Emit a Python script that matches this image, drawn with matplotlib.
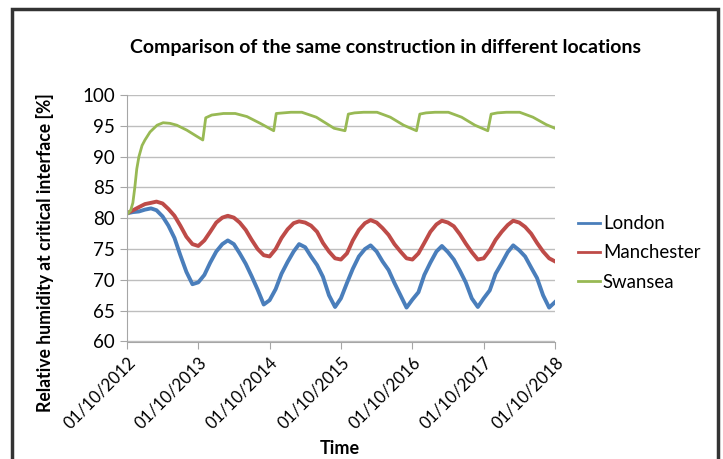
import matplotlib
matplotlib.use("Agg")
import matplotlib.pyplot as plt
import matplotlib.dates as mdates
from matplotlib.patches import Rectangle
import pandas as pd

plt.rcParams['font.family'] = ['Lato', 'DejaVu Sans']

# monthly readings (1st of each month, Oct 2012 .. Oct 2018)
months = pd.date_range('2012-10-01', '2018-10-01', freq='MS')

london = [80.8, 81.0, 81.1, 81.4, 81.6, 81.3, 80.3, 78.8, 76.8, 74.0, 71.3, 69.3, 69.6,
          70.8, 72.8, 74.6, 75.8, 76.4, 75.8, 74.3, 72.6, 70.6, 68.4, 66.0, 66.7,
          68.5, 71.0, 72.9, 74.6, 75.8, 75.3, 73.8, 72.4, 70.5, 67.5, 65.6, 67.0,
          69.5, 71.8, 73.8, 75.0, 75.6, 74.6, 73.0, 71.6, 69.5, 67.5, 65.5, 66.8,
          68.0, 70.8, 72.8, 74.6, 75.5, 74.5, 73.3, 71.5, 69.6, 67.0, 65.6, 67.0,
          68.3, 71.0, 72.7, 74.5, 75.6, 74.8, 73.8, 72.0, 70.3, 67.5, 65.5, 66.4]

manchester = [80.8, 81.3, 81.8, 82.3, 82.5, 82.7, 82.4, 81.5, 80.4, 78.8, 77.0, 75.8, 75.5,
              76.4, 77.8, 79.3, 80.1, 80.4, 80.1, 79.3, 78.1, 76.5, 75.0, 74.0, 73.8,
              75.0, 76.8, 78.2, 79.2, 79.5, 79.3, 78.8, 77.8, 76.0, 74.6, 73.5, 73.3,
              74.3, 76.4, 78.1, 79.2, 79.7, 79.3, 78.4, 77.3, 75.8, 74.6, 73.5, 73.3,
              74.3, 76.0, 77.8, 79.0, 79.6, 79.3, 78.7, 77.4, 75.9, 74.5, 73.3, 73.5,
              74.8, 76.5, 77.8, 78.9, 79.6, 79.3, 78.6, 77.5, 76.0, 74.6, 73.5, 73.0]

# swansea has sharp jumps every autumn, so it gets its own dates
swansea_dates = ['2012-10-01', '2012-10-20', '2012-10-31', '2012-11-10', '2012-11-20',
                 '2012-12-01', '2012-12-17', '2013-01-01', '2013-01-27', '2013-03-04',
                 '2013-04-04', '2013-05-09', '2013-06-13', '2013-08-03', '2013-09-23',
                 '2013-10-24', '2013-11-08', '2013-12-09', '2014-02-07', '2014-04-08',
                 '2014-06-07', '2014-08-14', '2014-10-22',
                 '2014-11-04', '2015-01-18', '2015-03-15', '2015-05-28', '2015-08-27',
                 '2015-10-22',
                 '2015-11-08', '2015-12-10', '2016-01-25', '2016-04-03', '2016-06-10',
                 '2016-08-17', '2016-10-22',
                 '2016-11-08', '2016-12-10', '2017-01-25', '2017-04-03', '2017-06-10',
                 '2017-08-17', '2017-10-22',
                 '2017-11-08', '2017-12-10', '2018-01-25', '2018-04-03', '2018-06-10',
                 '2018-08-17', '2018-10-01']
swansea = [80.6, 81.3, 82.5, 85.0, 88.0,
           90.0, 91.8, 92.7, 94.0, 95.1,
           95.5, 95.4, 95.1, 94.3, 93.3,
           92.7, 96.3, 96.75, 97.0, 97.0,
           96.5, 95.4, 94.2,
           97.0, 97.2, 97.2, 96.4, 94.6,
           94.2,
           96.9, 97.1, 97.2, 97.2, 96.4,
           95.1, 94.2,
           96.9, 97.1, 97.2, 97.2, 96.4,
           95.1, 94.2,
           96.9, 97.1, 97.2, 97.2, 96.4,
           95.2, 94.6]

year_ticks = pd.to_datetime(['2012-10-01', '2013-10-01', '2014-10-01', '2015-10-01',
                             '2016-10-01', '2017-10-01', '2018-10-01'])

fig = plt.figure(figsize=(7.23, 4.59), dpi=100)
ax = fig.add_axes([127/723, 1-341.5/459, (555-127)/723, (341.5-95)/459])

ax.plot(months, london, color='#4A7EBB', lw=2.8, label='London', solid_joinstyle='round')
ax.plot(months, manchester, color='#BE4B48', lw=2.8, label='Manchester', solid_joinstyle='round')
ax.plot(pd.to_datetime(swansea_dates), swansea, color='#98B954', lw=2.0, label='Swansea')

ax.set_ylim(60, 100)
ax.set_yticks(range(60, 101, 5))
ax.set_xlim(year_ticks[0], year_ticks[-1])
ax.set_xticks(year_ticks)
ax.xaxis.set_major_formatter(mdates.DateFormatter('%d/%m/%Y'))
ax.grid(axis='y', color='#BEBEBE', lw=1)
ax.set_axisbelow(True)
for s in ['top', 'right']:
    ax.spines[s].set_visible(False)
for s in ['left', 'bottom']:
    ax.spines[s].set_color('#A6A6A6')
ax.tick_params(axis='both', colors='#A6A6A6', length=5, labelcolor='black')
ax.tick_params(axis='y', labelsize=13.5)
ax.tick_params(axis='x', labelsize=12.2, pad=4)
plt.setp(ax.get_xticklabels(), rotation=45, ha='right', rotation_mode='anchor')

fig.text(385/723, 1-48/459, 'Comparison of the same construction in different locations',
         ha='center', va='center', fontsize=14, fontweight='bold')
fig.text(45/723, 1-253/459, 'Relative humidity at critical interface [%]', rotation=90,
         ha='center', va='center', fontsize=12.7, fontweight='bold')
fig.text(340/723, 1-448/459, 'Time', ha='center', va='center', fontsize=13, fontweight='bold')

fig.legend(loc='center left', bbox_to_anchor=(561/723, 1-253/459), frameon=False,
           fontsize=13.4, handlelength=1.2, handletextpad=0.15, labelspacing=0.65)
for line in fig.legends[0].get_lines():
    line.set_linewidth(2)

fig.patches.append(Rectangle((12/723, -0.05), (718-12)/723, 1.05-9/459,
                             transform=fig.transFigure, fill=False, ec='#333333', lw=2.5))

fig.savefig('out.png', dpi=100)
